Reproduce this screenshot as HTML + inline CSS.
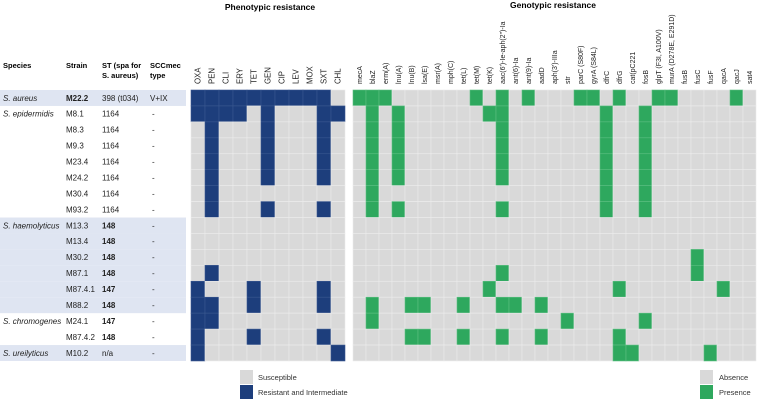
<!DOCTYPE html>
<html><head><meta charset="utf-8"><style>
body{margin:0;background:#fff;}
svg{display:block;font-family:"Liberation Sans",Arial,sans-serif;}
</style></head><body>
<svg id="chart" width="758" height="401" viewBox="0 0 758 401">
<text x="270" y="10" text-anchor="middle" font-size="8.5" font-weight="bold">Phenotypic resistance</text>
<text x="553" y="8" text-anchor="middle" font-size="8.5" font-weight="bold">Genotypic resistance</text>
<g id="bands"></g>
<g font-size="7.5" font-weight="bold">
<text x="3" y="68">Species</text>
<text x="66" y="68">Strain</text>
<text x="102" y="68">ST (spa for</text>
<text x="102" y="78">S. aureus)</text>
<text x="150" y="68">SCCmec</text>
<text x="150" y="78">type</text>
</g>
<g id="rows"></g>
<g id="pheno"></g>
<g id="geno"></g>
<g>
<rect x="240" y="370" width="13" height="14" fill="#d9d9d9"/>
<rect x="240" y="385" width="13" height="14" fill="#1d3e7c"/>
<text x="258" y="380" font-size="7.5" fill="#333">Susceptible</text>
<text x="258" y="395" font-size="7.5" fill="#333">Resistant and Intermediate</text>
</g>
<g>
<rect x="700" y="370" width="13" height="14" fill="#d9d9d9"/>
<rect x="700" y="385" width="13" height="14" fill="#2ea85e"/>
<text x="719" y="380" font-size="7.5" fill="#333">Absence</text>
<text x="719" y="395" font-size="7.5" fill="#333">Presence</text>
</g>
</svg>
<script>
const species=["S. aureus","S. epidermidis","","","","","","","S. haemolyticus","","","","","","S. chromogenes","","S. ureilyticus"];
const strains=["M22.2","M8.1","M8.3","M9.3","M23.4","M24.2","M30.4","M93.2","M13.3","M13.4","M30.2","M87.1","M87.4.1","M88.2","M24.1","M87.4.2","M10.2"];
const stTypes=["398 (t034)","1164","1164","1164","1164","1164","1164","1164","148","148","148","148","147","148","147","148","n/a"];
const sccmec=["V+IX","-","-","-","-","-","-","-","-","-","-","-","-","-","-","-","-"];
const bandRows=[0,8,9,10,11,12,13,16];
const phenoCols=["OXA","PEN","CLI","ERY","TET","GEN","CIP","LEV","MOX","SXT","CHL"];
const phenoData=[
[1,1,1,1,1,1,1,1,1,1,0],
[1,1,1,1,0,1,0,0,0,1,1],
[0,1,0,0,0,1,0,0,0,1,0],
[0,1,0,0,0,1,0,0,0,1,0],
[0,1,0,0,0,1,0,0,0,1,0],
[0,1,0,0,0,1,0,0,0,1,0],
[0,1,0,0,0,0,0,0,0,0,0],
[0,1,0,0,0,1,0,0,0,1,0],
[0,0,0,0,0,0,0,0,0,0,0],
[0,0,0,0,0,0,0,0,0,0,0],
[0,0,0,0,0,0,0,0,0,0,0],
[0,1,0,0,0,0,0,0,0,0,0],
[1,0,0,0,1,0,0,0,0,1,0],
[1,1,0,0,1,0,0,0,0,1,0],
[1,1,0,0,0,0,0,0,0,0,0],
[1,0,0,0,1,0,0,0,0,1,0],
[1,0,0,0,0,0,0,0,0,0,1]];
const genoCols=["mecA","blaZ","erm(A)","lnu(A)","lnu(B)","lsa(E)","msr(A)","mph(C)","tet(L)","tet(M)","tet(K)","aac(6')-Ie-aph(2\")-Ia","ant(6)-Ia","ant(9)-Ia","aadD","aph(3')-IIIa","str","parC (S80F)","gyrA (S84L)","dfrC","dfrG","cat(pC221","fosB","glpT (F3I, A100V)","murA (D278E, E291D)","fusB","fusC","fusF","qacA","qacJ","sat4"];
const genoPresent=[
[0,1,2,9,11,13,17,18,20,23,24,29],
[1,3,10,11,19,22],
[1,3,11,19,22],
[1,3,11,19,22],
[1,3,11,19,22],
[1,3,11,19,22],
[1,19,22],
[1,3,11,19,22],
[],
[],
[26],
[11,26],
[10,20,28],
[1,4,5,8,11,12,14],
[1,16,22],
[4,5,8,11,14,20],
[20,21,27]];

const NS='http://www.w3.org/2000/svg';
function mk(tag,attrs,parent,txt){const e=document.createElementNS(NS,tag);for(const k in attrs)e.setAttribute(k,attrs[k]);if(txt!==undefined)e.textContent=txt;parent.appendChild(e);return e;}
const top0=90,rowH=15.94;
const yRow=i=>top0+i*rowH;
const phX0=191,phW=14,gX0=353,gW=13;
const xPh=j=>phX0+j*phW, xG=j=>gX0+j*gW;
const bands=document.getElementById('bands');
bandRows.forEach(i=>{
 const r=mk('rect',{x:0,y:yRow(i),width:186,height:rowH,fill:'#dfe5f2'},bands);
 
 
});
const rows=document.getElementById('rows');
strains.forEach((s,i)=>{
 const y=yRow(i)+rowH/2+2.8;
 if(species[i]){const t=mk('text',{x:3,y:y,'font-size':8,'font-style':'italic',fill:'#222'},rows,species[i]);
  
  }
 const a=mk('text',{x:66,y:y,'font-size':8,fill:'#222','font-weight':i===0?'bold':'normal'},rows,s);
 
 
 const st=stTypes[i];
 const b=mk('text',{x:102,y:y,'font-size':8,fill:'#222','font-weight':(st==='148'||st==='147')?'bold':'normal'},rows,st);
 
 
 const c=mk('text',{x:sccmec[i]==='-'?152:150,y:y,'font-size':8,fill:'#222'},rows,sccmec[i]);
 
 
});
const ph=document.getElementById('pheno');
phenoCols.forEach((c,j)=>{
 const cx=xPh(j)+phW/2+2.6;
 const t=mk('text',{x:cx,y:84,'font-size':7.8,fill:'#222',transform:`rotate(-90 ${cx} 84)`},ph,c);
 
 
});
phenoData.forEach((row,i)=>row.forEach((v,j)=>{
 const r=mk('rect',{x:xPh(j),y:yRow(i),width:phW,height:rowH,fill:v?'#1d3e7c':'#d9d9d9',stroke:v?'#3a5890':'#ececec','stroke-width':0.6},ph);
 
 
}));
const g=document.getElementById('geno');
genoCols.forEach((c,j)=>{
 const cx=xG(j)+gW/2+2.4;
 const t=mk('text',{x:cx,y:84,'font-size':7,fill:'#222',transform:`rotate(-90 ${cx} 84)`},g,c);
 
 
});
genoPresent.forEach((list,i)=>genoCols.forEach((c,j)=>{
 const v=list.includes(j);
 const r=mk('rect',{x:xG(j),y:yRow(i),width:gW,height:rowH,fill:v?'#2ea85e':'#d9d9d9',stroke:v?'#5cbf82':'#ececec','stroke-width':0.6},g);
 
 
}));
</script>
</body></html>
